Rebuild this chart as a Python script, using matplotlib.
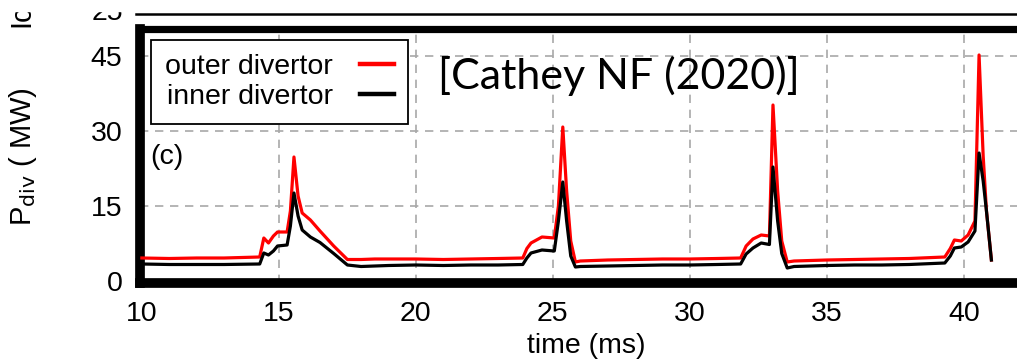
import matplotlib
matplotlib.use("Agg")
import matplotlib.pyplot as plt
from matplotlib.lines import Line2D
from matplotlib.patches import Rectangle

plt.rcParams['font.family'] = ['Liberation Sans', 'DejaVu Sans']

# time (ms) and divertor power (MW)
t_ms = [10.0, 11.0, 12.0, 13.0, 14.3, 14.45, 14.62, 14.8, 14.95, 15.3, 15.42, 15.55,
        15.7, 15.85, 16.15, 16.5, 17.0, 17.5, 18.0, 18.5, 19.0, 20.0, 21.0, 22.0,
        23.0, 23.9, 24.05, 24.2, 24.6, 25.05, 25.2, 25.36, 25.5, 25.65, 25.82, 26.0,
        27.0, 28.0, 29.0, 30.0, 31.0, 31.85, 32.05, 32.3, 32.6, 32.9, 33.03, 33.2,
        33.35, 33.55, 33.8, 35.0, 36.0, 37.0, 38.0, 39.3, 39.5, 39.65, 39.9, 40.15,
        40.4, 40.55, 40.7, 40.82, 41.0]
p_outer = [4.6, 4.5, 4.6, 4.6, 4.8, 8.6, 7.6, 9.0, 9.8, 9.8, 14.0, 24.8,
           17.0, 13.6, 12.2, 10.0, 7.0, 4.3, 4.3, 4.4, 4.4, 4.4, 4.3, 4.4,
           4.5, 4.6, 6.5, 7.6, 8.8, 8.6, 15.0, 30.8, 18.0, 8.0, 3.8, 4.0,
           4.2, 4.3, 4.4, 4.4, 4.5, 4.6, 7.0, 8.4, 9.2, 9.0, 35.2, 18.0,
           8.0, 3.8, 4.0, 4.2, 4.3, 4.4, 4.5, 4.8, 6.5, 8.2, 8.0, 9.2,
           12.0, 45.2, 25.0, 14.0, 4.2]
p_inner = [3.4, 3.3, 3.3, 3.3, 3.4, 5.6, 5.2, 6.0, 7.0, 7.2, 11.0, 17.6,
           13.0, 10.2, 8.8, 7.7, 5.5, 3.2, 2.9, 3.0, 3.1, 3.2, 3.1, 3.2,
           3.2, 3.3, 4.6, 5.6, 6.2, 6.0, 12.0, 19.8, 12.0, 5.0, 2.8, 2.9,
           3.0, 3.1, 3.2, 3.2, 3.3, 3.4, 5.4, 6.6, 7.6, 7.3, 22.8, 12.0,
           5.5, 2.6, 2.9, 3.1, 3.2, 3.2, 3.3, 3.6, 5.0, 6.6, 6.8, 7.8,
           10.0, 25.6, 20.0, 14.0, 4.2]

xticks = [10, 15, 20, 25, 30, 35, 40]
yticks = [0, 15, 30, 45]

fs = 20.5

fig = plt.figure(figsize=(10.17, 3.61), dpi=100)
ax = fig.add_axes([0.13815, 0.21607, 0.87709, 0.70222])

ax.plot(t_ms, p_outer, color='#ff0000', lw=2.3, label='outer divertor', zorder=3)
ax.plot(t_ms, p_inner, color='black', lw=2.3, label='inner divertor', zorder=4)

ax.set_xlim(9.95, 42.5)
ax.set_ylim(-0.4, 50.3)
ax.set_xticks(xticks)
ax.set_yticks(yticks)
ax.tick_params(length=0, labelsize=fs, pad=13)
ax.grid(True, color='#a8a8a8', lw=1.2, linestyle=(0, (5, 4)))
ax.set_axisbelow(True)

for side in ['left', 'bottom']:
    ax.spines[side].set_linewidth(7)
    ax.spines[side].set_capstyle('projecting')
ax.spines['top'].set_linewidth(5.2)
ax.spines['top'].set_capstyle('projecting')
ax.spines['right'].set_visible(False)

ax.set_xlabel('time (ms)', fontsize=fs, labelpad=4)
ax.set_ylabel(r'P$_{\mathrm{div}}$ ( MW)', fontsize=21, labelpad=37)

leg = ax.legend(loc='upper left', bbox_to_anchor=(0.0118, 0.9586), borderaxespad=0,
                markerfirst=False, fontsize=fs, frameon=True, fancybox=False,
                edgecolor='black', framealpha=1, borderpad=0.5, labelspacing=0.12,
                handlelength=1.2, handletextpad=0.95)
leg.get_frame().set_linewidth(1.3)
for ln in leg.get_lines():
    ln.set_linewidth(3.2)

ax.text(10.91, 24.8, '(c)', fontsize=fs, ha='center', va='center')
ax.text(20.8, 38.4, '[Cathey NF (2020)]', fontsize=31, family='Lato',
        ha='left', va='baseline')

# bits of the panel above that show at the top of the crop
fig.add_artist(Line2D([136 / 1017, 1.0], [1 - 14 / 361] * 2,
                      transform=fig.transFigure, color='black', lw=1.8))
fig.text(107 / 1017, 1 - 20 / 361, '25', fontsize=fs, ha='center', va='baseline')
fig.text(21 / 1017, 1 - 27 / 361, 'Ic', fontsize=21, rotation=90,
         ha='center', va='bottom')
fig.add_artist(Rectangle((0, 1 - 11 / 361), 130 / 1017, 11 / 361,
                         transform=fig.transFigure, color='white', zorder=10))

fig.savefig('out.png', dpi=100)
